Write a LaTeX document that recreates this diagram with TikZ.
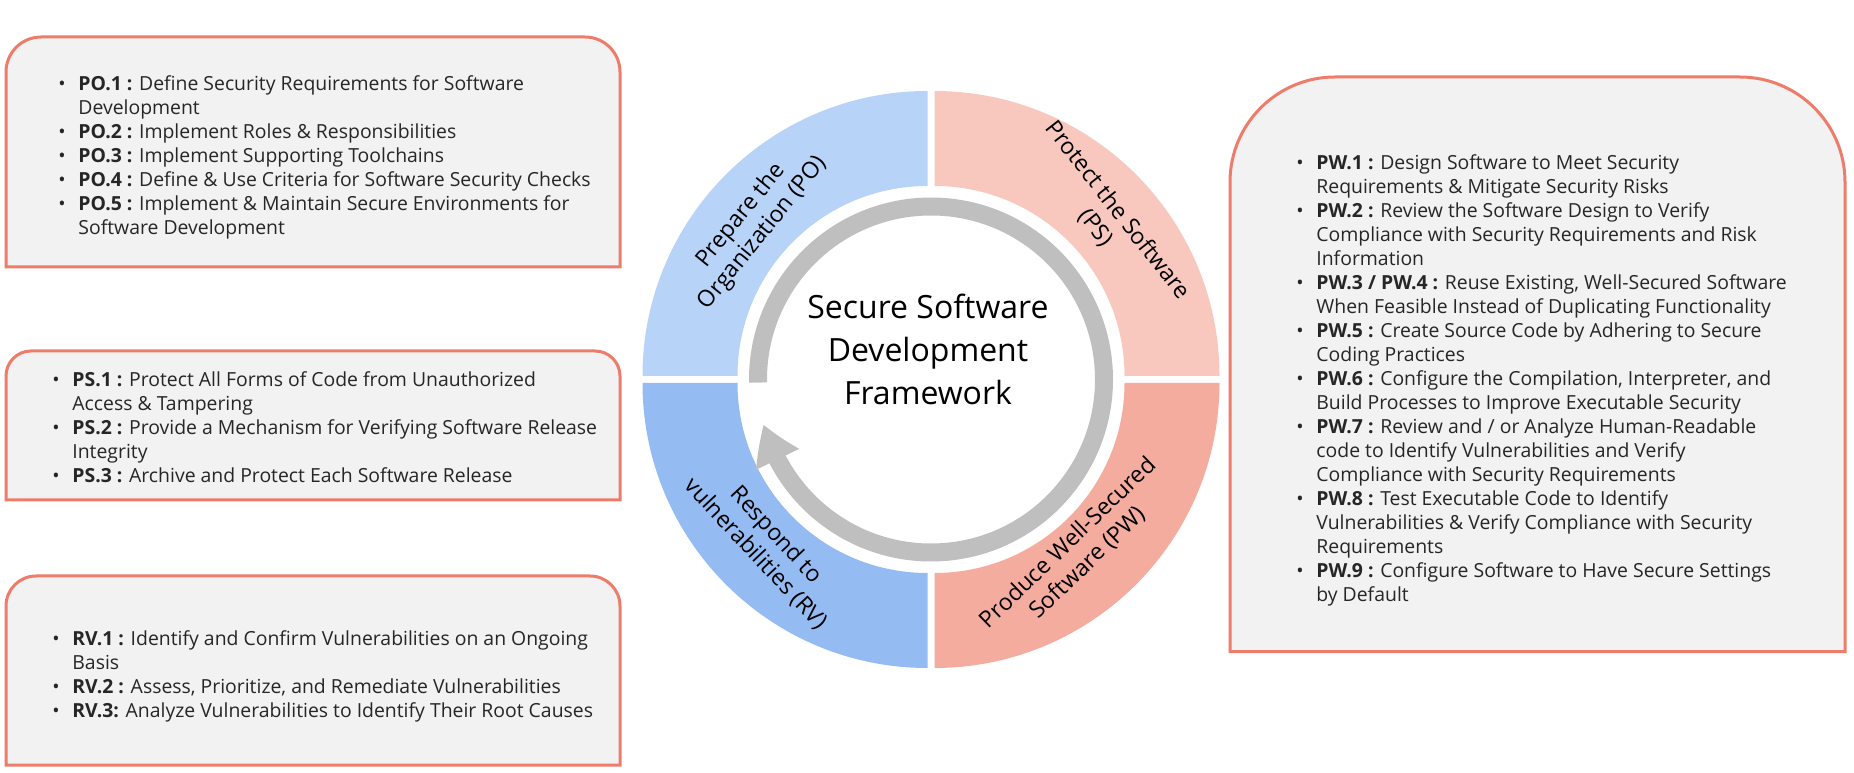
\documentclass[tikz,border=0pt]{standalone}
\usepackage{fontspec}
\setmainfont{Open Sans}
\usepackage{xcolor}
\usepackage{array}
\usetikzlibrary{arrows.meta, bending}

\definecolor{panelfill}{RGB}{242,242,242}
\definecolor{paneledge}{RGB}{237,125,106}
\definecolor{pofill}{RGB}{183,211,248}
\definecolor{psfill}{RGB}{248,200,190}
\definecolor{pwfill}{RGB}{244,172,158}
\definecolor{rvfill}{RGB}{148,188,243}
\definecolor{ringgray}{RGB}{191,191,191}

\newenvironment{practices}{\begin{tabular}{@{}p{7pt}@{\hspace{3pt}}l@{}}}{\end{tabular}}

\begin{document}
\begin{tikzpicture}[x=0.5pt,y=0.5pt]
		\tikzset{
			panel/.style={fill=panelfill, draw=paneledge, line width=1.5pt},
			items/.style={anchor=west, inner sep=0pt, align=left, text=black!85,
			font=\fontsize{9.7}{12}\selectfont},
			seglabel/.style={align=center, inner sep=0pt,
			font=\fontsize{11.5}{14}\selectfont},
			title/.style={align=center, inner sep=0pt,
			font=\fontsize{16}{21.5}\selectfont},
			cycle arrow/.style={ringgray, line width=9pt,
			-{Triangle[width=22.5pt, length=19pt, bend]}},
		}
		\useasboundingbox (0,0) rectangle (1854,772);

		\draw[panel](6,505) -- (6,700) arc[start angle=180, end angle=90, radius=35]
			-- (585,735) arc[start angle=90, end angle=0, radius=35] -- (620,505) -- cycle;
		\draw[panel](6,272) -- (6,396) arc[start angle=180, end angle=90, radius=25]
			-- (595,421) arc[start angle=90, end angle=0, radius=25] -- (620,272) -- cycle;
		\draw[panel](6,7) -- (6,166) arc[start angle=180, end angle=90, radius=30]
			-- (590,196) arc[start angle=90, end angle=0, radius=30] -- (620,7) -- cycle;
		\draw[panel](1230,120.5) -- (1230,590) arc[start angle=180, end angle=90, radius=105]
			-- (1740,695) arc[start angle=90, end angle=0, radius=105] -- (1845,120.5) -- cycle;

		\node[items](po) at (58,614){\begin{practices}
			\textbullet & \textbf{PO.1 :} Define Security Requirements for Software\\
			& Development\\
			\textbullet & \textbf{PO.2 :} Implement Roles \& Responsibilities\\
			\textbullet & \textbf{PO.3 :} Implement Supporting Toolchains\\
			\textbullet & \textbf{PO.4 :} Define \& Use Criteria for Software Security Checks\\
			\textbullet & \textbf{PO.5 :} Implement \& Maintain Secure Environments for\\
			& Software Development
		\end{practices}};
		\node[items](ps) at (52,342){\begin{practices}
			\textbullet & \textbf{PS.1 :} Protect All Forms of Code from Unauthorized\\
			& Access \& Tampering\\
			\textbullet & \textbf{PS.2 :} Provide a Mechanism for Verifying Software Release\\
			& Integrity\\
			\textbullet & \textbf{PS.3 :} Archive and Protect Each Software Release
		\end{practices}};
		\node[items](rv) at (52,95.5){\begin{practices}
			\textbullet & \textbf{RV.1 :} Identify and Confirm Vulnerabilities on an Ongoing\\
			& Basis\\
			\textbullet & \textbf{RV.2 :} Assess, Prioritize, and Remediate Vulnerabilities\\
			\textbullet & \textbf{RV.3:} Analyze Vulnerabilities to Identify Their Root Causes
		\end{practices}};
		\node[items](pw) at (1296,391){\begin{practices}
			\textbullet & \textbf{PW.1 :} Design Software to Meet Security\\
			& Requirements \& Mitigate Security Risks\\
			\textbullet & \textbf{PW.2 :} Review the Software Design to Verify\\
			& Compliance with Security Requirements and Risk\\
			& Information\\
			\textbullet & \textbf{PW.3 / PW.4 :} Reuse Existing, Well-Secured Software\\
			& When Feasible Instead of Duplicating Functionality\\
			\textbullet & \textbf{PW.5 :} Create Source Code by Adhering to Secure\\
			& Coding Practices\\
			\textbullet & \textbf{PW.6 :} Configure the Compilation, Interpreter, and\\
			& Build Processes to Improve Executable Security\\
			\textbullet & \textbf{PW.7 :} Review and / or Analyze Human-Readable\\
			& code to Identify Vulnerabilities and Verify\\
			& Compliance with Security Requirements\\
			\textbullet & \textbf{PW.8 :} Test Executable Code to Identify\\
			& Vulnerabilities \& Verify Compliance with Security\\
			& Requirements\\
			\textbullet & \textbf{PW.9 :} Configure Software to Have Secure Settings\\
			& by Default
		\end{practices}};

		\begin{scope}[shift={(931,392.5)}]
			\fill[pofill](-193.5,3.5) -- (-288.5,3.5) arc[start angle=180, end angle=90, radius=285]
				-- (-3.5,193.5) arc[start angle=90, end angle=180, radius=190] -- cycle;
			\fill[psfill](3.5,193.5) -- (3.5,288.5) arc[start angle=90, end angle=0, radius=285]
				-- (193.5,3.5) arc[start angle=0, end angle=90, radius=190] -- cycle;
			\fill[pwfill](193.5,-3.5) -- (288.5,-3.5) arc[start angle=0, end angle=-90, radius=285]
				-- (3.5,-193.5) arc[start angle=-90, end angle=0, radius=190] -- cycle;
			\fill[rvfill](-3.5,-193.5) -- (-3.5,-288.5) arc[start angle=270, end angle=180, radius=285]
				-- (-193.5,-3.5) arc[start angle=180, end angle=270, radius=190] -- cycle;

			\draw[cycle arrow](181:173) arc[start angle=181, end angle=-165, radius=173];

			\node[seglabel, rotate=51](poname) at (-179,155){Prepare the\\Organization (PO)};
			\node[seglabel, rotate=-52](psname) at (175.7,160.3){Protect the Software\\(PS)};
			\node[seglabel, rotate=44](pwname) at (147,-173.4){Produce Well-Secured\\Software (PW)};
			\node[seglabel, rotate=-47](rvname) at (-165,-165){Respond to\\vulnerabilities (RV)};

			\node[title](ssdf) at (-3,30.5){Secure Software\\Development\\Framework};
		\end{scope}

	\end{tikzpicture}
\end{document}
